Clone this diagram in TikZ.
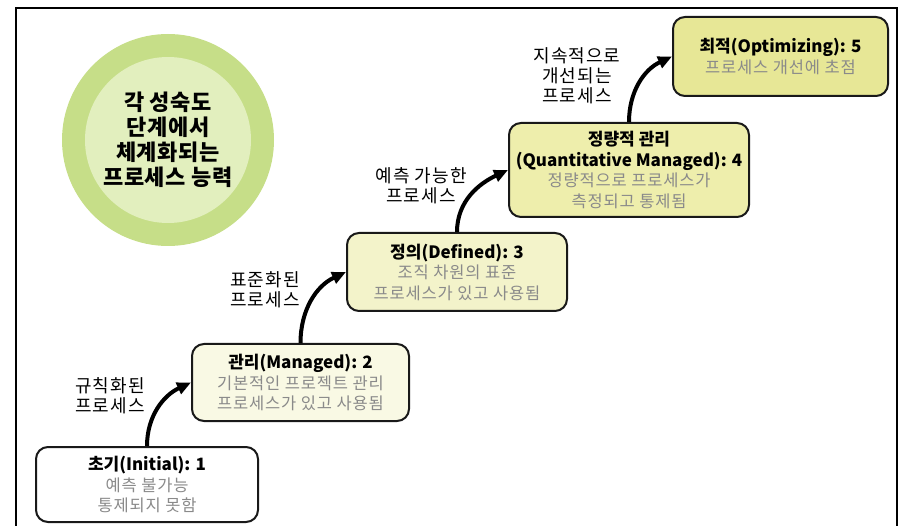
\documentclass[tikz,border=0pt]{standalone}
\usepackage{fontspec}
\setmainfont{Noto Sans CJK KR}
\usepackage{xcolor}
\usetikzlibrary{arrows.meta,shapes,positioning}
\definecolor{ringout}{HTML}{C6DE88}
\definecolor{ringin}{HTML}{E2EFBE}
\definecolor{lvlA}{HTML}{F9F9E4}
\definecolor{lvlB}{HTML}{F3F3CA}
\definecolor{lvlC}{HTML}{EEEEAC}
\definecolor{lvlD}{HTML}{E7E796}
\definecolor{subgray}{HTML}{8A8A8A}
\newcommand{\stagehead}[1]{{\bfseries\fontsize{17}{21}\selectfont #1}}
\newcommand{\stagesub}[1]{{\color{subgray}\addfontfeature{LetterSpace=5}#1}}

\begin{document}
\begin{tikzpicture}[
        x=1pt, y=1pt,
        every node/.style={align=center, inner sep=0pt},
        stage/.style={draw=black!90, line width=2pt, rounded corners=12pt, font=\fontsize{16.5}{20.5}\selectfont},
        note/.style={font=\fontsize{18}{20}\selectfont\addfontfeature{LetterSpace=6}},
        climb/.style={line width=4pt, -{Triangle[length=14pt,width=12pt]}}
    ]
        \useasboundingbox (0,0) rectangle (899,525);
        \clip (0,0) rectangle (899,525);
        % Frame
        \draw[line width=2pt] (16,-10) -- (16,517) -- (897,517) -- (897,-10);

        % Capability circle
        \node[circle, fill=ringout, minimum size=212pt] (ring) at (168,385) {};
        \node[circle, fill=ringin, minimum size=166pt, font=\bfseries\fontsize{22}{25}\selectfont\addfontfeature{LetterSpace=3}] (core) at (ring) {각 성숙도\\단계에서\\체계화되는\\프로세스 능력};

        % Maturity levels
        \node[stage, fill=white, minimum width=222pt, minimum height=75pt] (initial) at (147,40.5)
            {\stagehead{초기(Initial): 1}\\ \stagesub{예측 불가능}\\ \stagesub{통제되지 못함}};
        \node[stage, fill=lvlA, minimum width=217pt, minimum height=77pt] (managed) at (300.5,142.5)
            {\stagehead{관리(Managed): 2}\\ \stagesub{기본적인 프로젝트 관리}\\ \stagesub{프로세스가 있고 사용됨}};
        \node[stage, fill=lvlB, minimum width=220pt, minimum height=78pt] (defined) at (457,253)
            {\stagehead{정의(Defined): 3}\\ \stagesub{조직 차원의 표준}\\ \stagesub{프로세스가 있고 사용됨}};
        \node[stage, fill=lvlC, minimum width=240pt, minimum height=94pt] (quant) at (629,355)
            {\stagehead{정량적 관리}\\ \stagehead{(Quantitative Managed): 4}\\ \stagesub{정량적으로 프로세스가}\\ \stagesub{측정되고 통제됨}};
        \node[stage, fill=lvlD, minimum width=215pt, minimum height=79pt] (optim) at (780.5,468.5)
            {\stagehead{최적(Optimizing): 5}\\ \stagesub{프로세스 개선에 초점}};

        % Steps between levels
        \draw[climb] (initial.north) to[out=90, in=205] (managed.west);
        \draw[climb] (managed.north) to[out=90, in=205] (defined.west);
        \draw[climb] (defined.north) to[out=90, in=205] (quant.west);
        \draw[climb] (quant.north) to[out=90, in=205] (optim.west);

        % Step labels
        \node[note] (stepA) at (110,129) {규칙화된\\프로세스};
        \node[note] (stepB) at (265,235) {표준화된\\프로세스};
        \node[note] (stepC) at (421,339) {예측 가능한\\프로세스};
        \node[note] (stepD) at (577,449) {지속적으로\\개선되는\\프로세스};
    \end{tikzpicture}
\end{document}
